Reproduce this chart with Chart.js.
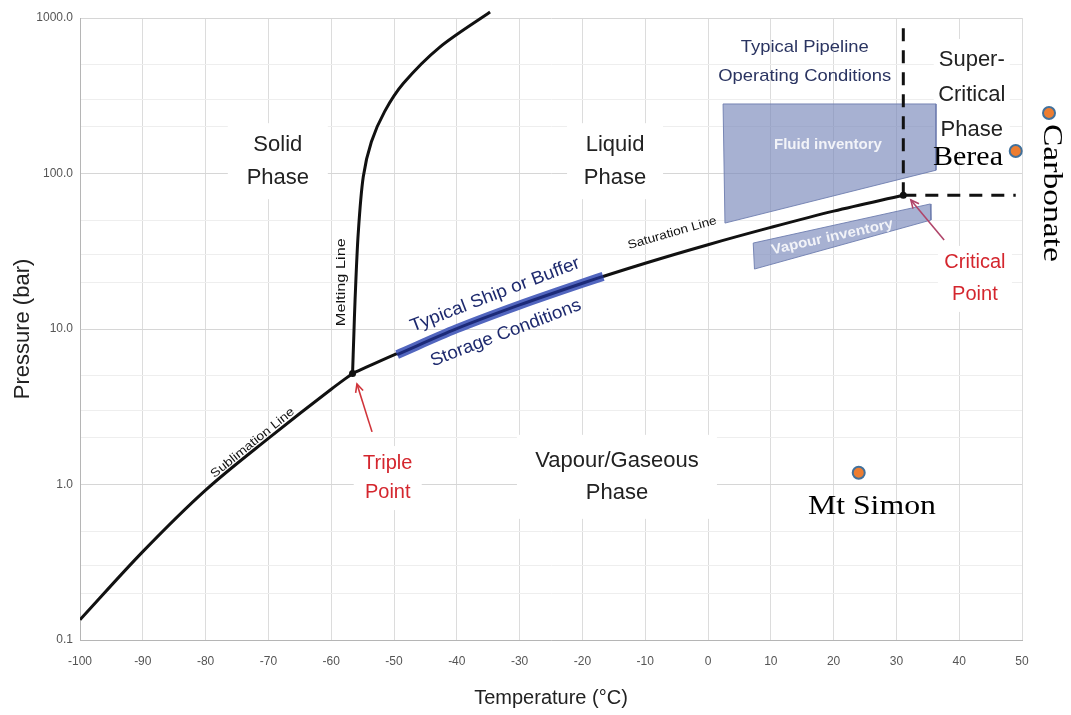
<!DOCTYPE html>
<html><head><meta charset="utf-8">
<script src="https://cdn.jsdelivr.net/npm/chart.js@4.4.1/dist/chart.umd.min.js"></script>
<style>html,body{margin:0;padding:0;background:#fff}#wrap{width:1071px;height:715px;position:relative}</style>
</head><body><div id="wrap"><canvas id="c" width="1071" height="715"></canvas></div>
<script>
// ---- data (temperature °C, pressure bar) ----
const sublimationT = [-100, -90, -80, -70, -60, -56.6];
const sublimationP = [0.135, 0.37, 0.92, 1.98, 4.1, 5.18];
const meltingT = [-56.6, -56.4, -56.2, -55.7, -54.9, -53.6, -51.5, -48.5, -42.7, -34.7];
const meltingP = [5.18, 9, 15.4, 41, 95, 160, 250, 380, 650, 1093];
const saturationT = [-56.6, -50, -40, -30, -20, -10, 0, 10, 20, 31.1];
const saturationP = [5.18, 6.82, 10.05, 14.28, 19.7, 26.49, 34.85, 45.0, 57.29, 72.5];
const shipT = [-49.5, -40, -30, -20, -16.7];
const shipP = [6.85, 10.05, 14.28, 19.7, 21.8];
const fluidT = [2.4, 36.3, 36.3, 2.7, 2.4];
const fluidP = [280, 280, 105, 48, 280];
const vapourT = [7.2, 35.4, 35.5, 7.4, 7.2];
const vapourP = [35.7, 63.7, 50.2, 24.3, 35.7];
const criticalT = [31.1], criticalP = [72.5];
const tripleT = [-56.6], tripleP = [5.18];
const criticalVertT = [31.1, 31.1], criticalVertP = [72.5, 860];
const criticalHorT = [31.1, 49], criticalHorP = [72.5, 72.5];
const siteNames = ['Mt Simon', 'Carbonate', 'Berea'];
const siteT = [24.0, 54.3, 49.0];
const siteP = [1.19, 245, 139.6];
const xTickLabels = ['-100','-90','-80','-70','-60','-50','-40','-30','-20','-10','0','10','20','30','40','50'];
const yTickValues = [0.1, 1, 10, 100, 1000];
const yTickLabels = ['0.1', '1.0', '10.0', '100.0', '1000.0'];

const pts = (xs, ys) => xs.map((x, i) => ({x, y: ys[i]}));

const SANS = "'Liberation Sans', Arial, sans-serif";
const SERIF = "'Liberation Serif', 'Times New Roman', serif";
const NAVY = '#2a3461';
const RED = '#d4262e';
const SITE_FILL = '#ed7d31', SITE_EDGE = '#41719c';

// text annotations anchored in data coordinates
const annotations = [
  {text:'Solid\nPhase', t:-68.5, p:120, font:'22px '+SANS, color:'#222', lh:33, box:[100,76]},
  {text:'Liquid\nPhase', t:-14.8, p:120, font:'22px '+SANS, color:'#222', lh:33, box:[96,76]},
  {text:'Vapour/Gaseous\nPhase', t:-14.5, p:1.12, font:'22px '+SANS, color:'#222', lh:32, box:[200,84]},
  {text:'Super-\nCritical\nPhase', t:42.0, p:320, font:'22px '+SANS, color:'#222', lh:35, box:[76,112]},
  {text:'Typical Pipeline\nOperating Conditions', t:15.4, p:521, font:'17px '+SANS, color:NAVY, lh:29, fit:[128,173]},
  {text:'Fluid inventory', t:19.1, p:152, font:'bold 14px '+SANS, color:'rgba(255,255,255,0.85)', lh:16, fit:[108]},
  {text:'Vapour inventory', t:19.8, p:39, rot:-12.4, font:'bold 14px '+SANS, color:'rgba(255,255,255,0.85)', lh:16, fit:[124]},
  {text:'Critical\nPoint', t:42.5, p:21, font:'20px '+SANS, color:RED, lh:32, box:[74,66]},
  {text:'Triple\nPoint', t:-51.0, p:1.10, font:'20px '+SANS, color:RED, lh:29, box:[68,64]},
  {text:'Sublimation Line', t:-72.5, p:1.85, rot:-39, font:'12px '+SANS, color:'#111', lh:14, fit:[104]},
  {text:'Melting Line', t:-58.4, p:20, rot:-90, font:'12px '+SANS, color:'#111', lh:14, fit:[88]},
  {text:'Saturation Line', t:-5.7, p:41.4, rot:-16, font:'12px '+SANS, color:'#111', lh:14, fit:[92]},
  {text:'Typical Ship or Buffer', t:-33.9, p:16.6, rot:-21, font:'18px '+SANS, color:'#1e2a6e', lh:20, fit:[180]},
  {text:'Storage Conditions', t:-32.2, p:9.4, rot:-21, font:'18px '+SANS, color:'#1e2a6e', lh:20, fit:[160]},
  {text:'Mt Simon', t:26.1, p:0.72, font:'28px '+SERIF, color:'#000', lh:30, fit:[128]},
  {text:'Berea', t:41.4, p:127, font:'28px '+SERIF, color:'#000', lh:30, fit:[70]},
  {text:'Carbonate', t:54.6, p:75, rot:90, font:'28px '+SERIF, color:'#000', lh:30, fit:[138]}
];
// arrows (tail -> head) in data coordinates
const arrows = [
  {t0:-53.5, p0:2.18, t1:-55.9, p1:4.43, color:'#d0343a'},
  {t0:37.6, p0:37.3, t1:32.3, p1:67.6, color:'#b0456a'}
];

const annotPlugin = {
  id: 'annot',
  beforeDatasetsDraw(chart) {
    const {ctx, scales:{x, y}} = chart;
    ctx.save();
    ctx.fillStyle = '#fff';
    annotations.forEach(a => {
      if (!a.box) return;
      const px = x.getPixelForValue(a.t), py = y.getPixelForValue(a.p);
      ctx.fillRect(px - a.box[0]/2, py - a.box[1]/2, a.box[0], a.box[1]);
    });
    ctx.restore();
  },
  afterDraw(chart) {
    const {ctx, chartArea: area, scales:{x, y}} = chart;
    arrows.forEach(a => {
      const x0 = x.getPixelForValue(a.t0), y0 = y.getPixelForValue(a.p0);
      const x1 = x.getPixelForValue(a.t1), y1 = y.getPixelForValue(a.p1);
      const ang = Math.atan2(y1 - y0, x1 - x0);
      ctx.save();
      ctx.strokeStyle = a.color; ctx.lineWidth = 1.6;
      ctx.beginPath(); ctx.moveTo(x0, y0); ctx.lineTo(x1, y1); ctx.stroke();
      ctx.beginPath();
      ctx.moveTo(x1 - 9*Math.cos(ang - 0.45), y1 - 9*Math.sin(ang - 0.45));
      ctx.lineTo(x1, y1);
      ctx.lineTo(x1 - 9*Math.cos(ang + 0.45), y1 - 9*Math.sin(ang + 0.45));
      ctx.stroke();
      ctx.restore();
    });
    annotations.forEach(a => {
      const px = x.getPixelForValue(a.t), py = y.getPixelForValue(a.p);
      ctx.save();
      ctx.translate(px, py);
      ctx.rotate((a.rot || 0) * Math.PI / 180);
      ctx.font = a.font; ctx.fillStyle = a.color;
      ctx.textAlign = 'center'; ctx.textBaseline = 'middle';
      const lines = a.text.split('\n');
      lines.forEach((ln, i) => {
        const yy = (i - (lines.length - 1) / 2) * a.lh;
        if (a.fit && a.fit[i]) {
          const w = ctx.measureText(ln).width;
          ctx.save(); ctx.translate(0, yy); ctx.scale(a.fit[i] / w, 1);
          ctx.fillText(ln, 0, 0); ctx.restore();
        } else ctx.fillText(ln, 0, yy);
      });
      ctx.restore();
    });
    // site markers that fall outside the plotting area (Chart.js skips those)
    siteT.forEach((t, i) => {
      const px = x.getPixelForValue(t), py = y.getPixelForValue(siteP[i]);
      if (px >= area.left && px <= area.right && py >= area.top && py <= area.bottom) return;
      ctx.save();
      ctx.beginPath(); ctx.arc(px, py, 6, 0, Math.PI * 2);
      ctx.fillStyle = SITE_FILL; ctx.fill();
      ctx.lineWidth = 2; ctx.strokeStyle = SITE_EDGE; ctx.stroke();
      ctx.restore();
    });
  }
};

const line = (data, color, width, extra) => Object.assign({
  data, showLine: true, borderColor: color, borderWidth: width, pointRadius: 0,
  fill: false, cubicInterpolationMode: 'monotone'
}, extra || {});

new Chart(document.getElementById('c'), {
  type: 'scatter',
  data: {
    datasets: [
      {label: 'Sites', data: pts(siteT, siteP), pointRadius: 6, pointBackgroundColor: SITE_FILL,
       pointBorderColor: SITE_EDGE, pointBorderWidth: 2, clip: false, order: 0},
      {label: 'Critical', data: pts(criticalT, criticalP), pointRadius: 3.5, pointBackgroundColor: '#111', pointBorderWidth: 0, order: 1},
      {label: 'Triple', data: pts(tripleT, tripleP), pointRadius: 3.5, pointBackgroundColor: '#111', pointBorderWidth: 0, order: 1},
      line(pts(shipT, shipP), '#1c2a78', 3, {order: 2}),
      line(pts(shipT, shipP), '#5266bf', 9, {order: 3}),
      line(pts(saturationT, saturationP), '#111', 3, {order: 4}),
      line(pts(sublimationT, sublimationP), '#111', 3, {order: 4}),
      line(pts(meltingT, meltingP), '#111', 3, {order: 4, cubicInterpolationMode: 'default', tension: 0.3, clip: {left: 0, right: 0, top: 8, bottom: 0}}),
      line(pts(criticalVertT, criticalVertP), '#111', 3, {order: 5, cubicInterpolationMode: 'default', tension: 0, borderDash: [13, 9]}),
      line(pts(criticalHorT, criticalHorP), '#111', 3, {order: 5, cubicInterpolationMode: 'default', tension: 0, borderDash: [13, 9]}),
      line(pts(fluidT, fluidP), 'rgba(110,125,175,0.9)', 1, {order: 10, cubicInterpolationMode: 'default', tension: 0, fill: 'shape', backgroundColor: 'rgba(122,137,186,0.66)'}),
      line(pts(vapourT, vapourP), 'rgba(110,125,175,0.9)', 1, {order: 10, cubicInterpolationMode: 'default', tension: 0, fill: 'shape', backgroundColor: 'rgba(122,137,186,0.66)'})
    ]
  },
  options: {
    responsive: false, animation: false, devicePixelRatio: 1,
    layout: {padding: {left: 0, top: 18, right: 49, bottom: 0}},
    plugins: {legend: {display: false}, tooltip: {enabled: false}},
    scales: {
      x: {
        type: 'linear', min: -100, max: 50,
        afterBuildTicks: s => { s.ticks = xTickLabels.map(l => ({value: Number(l)})); },
        afterFit: s => { s.height = 75; },
        ticks: {autoSkip: false, padding: 14, color: '#555', font: {family: SANS, size: 12},
                callback: (v, i) => xTickLabels[i]},
        grid: {color: '#dcdcdc', drawTicks: false},
        border: {display: true, color: '#b5b5b5'},
        title: {display: true, text: 'Temperature (°C)', color: '#222',
                font: {family: SANS, size: 20}, padding: {top: 0, bottom: 5}}
      },
      y: {
        type: 'logarithmic', min: 0.1, max: 1000,
        afterBuildTicks: s => {
          const t = [];
          yTickValues.forEach((d, i) => {
            t.push({value: d});
            if (i < yTickValues.length - 1) [2, 3, 5].forEach(m => t.push({value: d * m}));
          });
          s.ticks = t;
        },
        afterFit: s => { s.width = 80; },
        ticks: {autoSkip: false, padding: 7, color: '#555', font: {family: SANS, size: 12},
                callback: v => { const i = yTickValues.findIndex(d => Math.abs(d - v) < 1e-9); return i >= 0 ? yTickLabels[i] : ''; }},
        grid: {drawTicks: false,
               color: c => (c.tick && yTickValues.some(d => Math.abs(d - c.tick.value) < 1e-9)) ? '#d6d6d6' : '#eeeeee'},
        border: {display: true, color: '#b5b5b5'},
        title: {display: true, text: 'Pressure (bar)', color: '#222', font: {family: SANS, size: 22}, padding: {top: 10, bottom: 0}}
      }
    }
  },
  plugins: [annotPlugin]
});
</script></body></html>
